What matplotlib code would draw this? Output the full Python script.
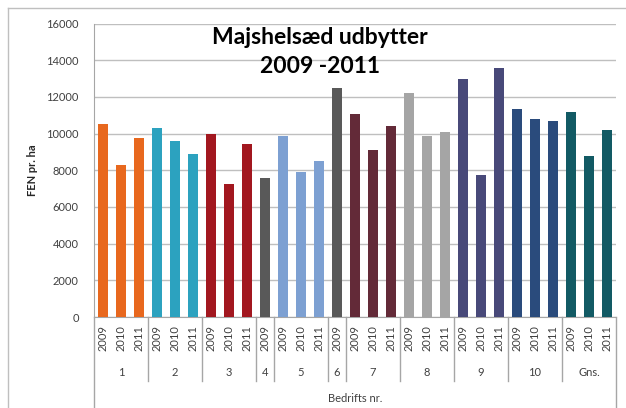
import matplotlib
matplotlib.use("Agg")
import matplotlib.pyplot as plt
from matplotlib.transforms import blended_transform_factory
from matplotlib.lines import Line2D

plt.rcParams['font.family'] = ['Lato', 'DejaVu Sans']

# ---- data ----
groups = ['1', '2', '3', '4', '5', '6', '7', '8', '9', '10', 'Gns.']
years_full = ['2009', '2010', '2011']
group_years = [years_full, years_full, years_full, ['2009'], years_full, ['2009'],
               years_full, years_full, years_full, years_full, years_full]
group_values = [
    [10500, 8300, 9750],
    [10300, 9600, 8900],
    [9950, 7230, 9450],
    [7600],
    [9850, 7900, 8500],
    [12500],
    [11050, 9100, 10400],
    [12200, 9850, 10100],
    [13000, 7750, 13600],
    [11350, 10800, 10700],
    [11200, 8800, 10200],
]
group_colors = ['#E8681E', '#2CA2BF', '#A2171F', '#595959', '#7DA0D2', '#595959',
                '#632A38', '#A5A5A5', '#484979', '#2A4B7C', '#125A64']
yticks = [0, 2000, 4000, 6000, 8000, 10000, 12000, 14000, 16000]
title = 'Majshelsæd udbytter\n2009 -2011'
ylabel = 'FEN pr. ha'
xlabel = 'Bedrifts nr.'

W, H = 626, 408
fig = plt.figure(figsize=(W / 100, H / 100), dpi=100)
ax = fig.add_axes([94 / W, 1 - 317 / H, (616 - 94) / W, (317 - 23.5) / H])

grid_c = '#BFBFBF'
# bars
pos = 0
xs, labels, bounds = [], [], [-0.5]
for g, yrs, vals, col in zip(groups, group_years, group_values, group_colors):
    idx = list(range(pos, pos + len(vals)))
    ax.bar(idx, vals, width=0.56, color=col, zorder=3)
    xs += idx
    labels += yrs
    pos += len(vals)
    bounds.append(pos - 0.5)

ax.set_xlim(-0.5, pos - 0.5)
ax.set_ylim(0, 16000)
ax.set_yticks(yticks)
ax.set_yticklabels([str(v) for v in yticks], fontsize=8, color='#404040')
ax.tick_params(axis='y', length=0, pad=11)
ax.set_xticks(xs)
ax.set_xticklabels(labels, rotation=90, fontsize=8, color='#404040')
ax.tick_params(axis='x', length=0, pad=6)
ax.yaxis.grid(True, color=grid_c, linewidth=1, zorder=0)
for s in ['top', 'right']:
    ax.spines[s].set_visible(False)
ax.spines['left'].set_color('#A6A6A6')
ax.spines['bottom'].set_color('#A6A6A6')

tr = blended_transform_factory(ax.transData, ax.transAxes)
sep_low = -(381 - 317) / (317 - 23.5)
bottom_low = -(408 - 317) / (317 - 23.5)
for i, b in enumerate(bounds):
    low = bottom_low if i in (0, len(bounds) - 1) else sep_low
    ax.add_line(Line2D([b, b], [0, low], transform=tr, color='#A6A6A6',
                       linewidth=1, clip_on=False))
# group labels
for i, g in enumerate(groups):
    c = (bounds[i] + bounds[i + 1]) / 2
    ax.text(c, -(372 - 317) / (317 - 23.5), g, transform=tr, ha='center',
            va='center', fontsize=8, color='#404040')

ax.text(0.5, -(399 - 317) / (317 - 23.5), xlabel, transform=ax.transAxes,
        ha='center', va='center', fontsize=8, color='#404040')
fig.text(33 / W, 1 - 170 / H, ylabel, rotation=90, ha='center', va='center',
         fontsize=8, fontweight='bold', color='#262626')

fig.text(320 / W, 1 - 52 / H, title, ha='center', va='center', fontsize=16.5,
         fontweight='bold', color='black', linespacing=1.45)

# outer chart border
fig.add_artist(Line2D([8 / W, 8 / W], [0, 1 - 8 / H], transform=fig.transFigure,
                      color='#BFBFBF', linewidth=1))
fig.add_artist(Line2D([8 / W, 1], [1 - 8 / H, 1 - 8 / H], transform=fig.transFigure,
                      color='#BFBFBF', linewidth=1))

fig.savefig('out.png', dpi=100)
